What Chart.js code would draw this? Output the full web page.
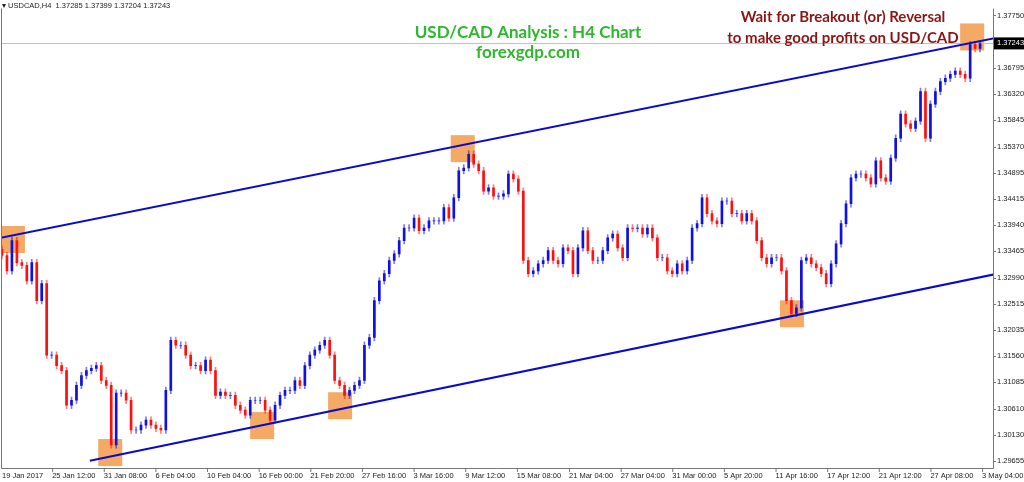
<!DOCTYPE html>
<html>
<head>
<meta charset="utf-8">
<script src="https://cdn.jsdelivr.net/npm/chart.js@4.4.0/dist/chart.umd.min.js"></script>
<style>
  html, body { margin: 0; padding: 0; background: #fff; }
  #wrap { width: 1024px; height: 482px; position: relative; }
</style>
</head>
<body>
<div id="wrap"><canvas id="myChart"></canvas></div>
<script>
// closes of the H4 candles (left to right)
const closes = [
  1.3339, 1.3311, 1.3366, 1.3326, 1.3321, 1.3293, 1.3326, 1.3257, 1.3288,
  1.3158, 1.3158, 1.3139, 1.3130, 1.3067, 1.3076, 1.3103, 1.3121, 1.3130, 1.3134, 1.3139,
  1.3112, 1.3103, 1.2995, 1.3089, 1.3089, 1.3076, 1.3022, 1.3022, 1.3031, 1.3040,
  1.3031, 1.3025, 1.3022, 1.3094, 1.3185, 1.3176, 1.3176, 1.3158, 1.3139, 1.3139,
  1.3130, 1.3149, 1.3130, 1.3085, 1.3091, 1.3085, 1.3085, 1.3067, 1.3058, 1.3049,
  1.3076, 1.3076, 1.3076, 1.3058, 1.3040, 1.3067, 1.3085, 1.3094, 1.3094, 1.3112,
  1.3103, 1.3139, 1.3158, 1.3167, 1.3176, 1.3185, 1.3158, 1.3112, 1.3103, 1.3085,
  1.3094, 1.3103, 1.3112, 1.3176, 1.3190, 1.3257, 1.3293, 1.3306, 1.3330, 1.3342,
  1.3366, 1.3389, 1.3389, 1.3407, 1.3384, 1.3389, 1.3402, 1.3402, 1.3402, 1.3426,
  1.3407, 1.3444, 1.3493, 1.3498, 1.3523, 1.3505, 1.3493, 1.3456, 1.3462, 1.3447,
  1.3447, 1.3451, 1.3487, 1.3478, 1.3456, 1.3330, 1.3306,
  1.3311, 1.3324, 1.3330, 1.3348, 1.3330, 1.3324, 1.3353, 1.3348, 1.3306, 1.3353,
  1.3384, 1.3348, 1.3330, 1.3330, 1.3348, 1.3371, 1.3378, 1.3353, 1.3335, 1.3389,
  1.3388, 1.3389, 1.3378, 1.3389, 1.3371, 1.3335, 1.3335, 1.3311, 1.3306, 1.3324,
  1.3311, 1.3330, 1.3389, 1.3397, 1.3444, 1.3415, 1.3402, 1.3397, 1.3438, 1.3438,
  1.3415, 1.3415, 1.3402, 1.3415, 1.3402, 1.3366, 1.3335, 1.3324, 1.3335, 1.3335,
  1.3311, 1.3257, 1.3234, 1.3244, 1.3330, 1.3335, 1.3324, 1.3317, 1.3306, 1.3288,
  1.3324, 1.3360, 1.3397, 1.3433, 1.3480, 1.3487, 1.3487, 1.3480, 1.3469, 1.3511,
  1.3480, 1.3474, 1.3516, 1.3552, 1.3596, 1.3578, 1.3570, 1.3583, 1.3637, 1.3552,
  1.3614, 1.3637, 1.3655, 1.3661, 1.3668, 1.3674, 1.3668, 1.3661, 1.3722, 1.3715,
  1.3724
]
const firstOpen = 1.3350

const yTicks = [1.37750, 1.36795, 1.36320, 1.35845, 1.35370, 1.34895, 1.34415, 1.33940,
  1.33465, 1.32990, 1.32515, 1.32035, 1.31560, 1.31085, 1.30610, 1.30130, 1.29655]

const dateLabels = ['19 Jan 2017', '25 Jan 12:00', '31 Jan 08:00', '6 Feb 04:00', '10 Feb 04:00',
  '16 Feb 00:00', '21 Feb 20:00', '27 Feb 16:00', '3 Mar 16:00', '9 Mar 12:00', '15 Mar 08:00',
  '21 Mar 04:00', '27 Mar 04:00', '31 Mar 00:00', '5 Apr 20:00', '11 Apr 16:00', '17 Apr 12:00',
  '21 Apr 12:00', '27 Apr 08:00', '3 May 04:00']
const dateIdx = [-0.2, 10.1, 20.5, 30.9, 41.3, 51.7, 62.1, 72.5, 82.9, 93.3, 103.7, 114.2,
  124.6, 135.0, 145.4, 155.8, 166.2, 176.6, 187.0, 197.4]

// channel lines [candle index, price]
const upperLine = [[-0.4, 1.3371], [201.6, 1.3737]]
const lowerLine = [[17.7, 1.2966], [201.6, 1.3308]]
// highlighted touches [candle index, price]
const touches = [[2.2, 1.3369], [21.8, 1.2982], [52.4, 1.3031], [68.1, 1.3067],
  [92.8, 1.3534], [159.1, 1.3234], [195.4, 1.3737]]
const lastPrice = 1.37243

const wickPad = 0.0006
const opens = closes.map((c, i) => i === 0 ? firstOpen : closes[i - 1])
const bodies = closes.map((c, i) => ({ x: i, y: [opens[i], c] }))
const wicks = closes.map((c, i) => ({ x: i, y: [Math.min(opens[i], c) - wickPad, Math.max(opens[i], c) + wickPad] }))
const candleColor = closes.map((c, i) => c >= opens[i] ? '#1010e0' : '#ff1010')
const wickColor = closes.map((c, i) => c >= opens[i] ? 'rgba(16,16,224,0.55)' : 'rgba(255,16,16,0.55)')

const small = '7.5px "Liberation Sans"'

const overlay = {
  id: 'overlay',
  beforeDatasetsDraw(chart) {
    const { ctx, scales: { x, y }, chartArea } = chart
    ctx.save()
    ctx.fillStyle = 'rgba(240,140,50,0.75)'
    touches.forEach(([i, p]) => {
      ctx.fillRect(x.getPixelForValue(i) - 12, y.getPixelForValue(p) - 13, 24, 27)
    })
    // last price line
    ctx.strokeStyle = '#c0c0c0'
    ctx.lineWidth = 1
    const ly = Math.round(y.getPixelForValue(lastPrice)) + 0.5
    ctx.beginPath(); ctx.moveTo(chartArea.left, ly); ctx.lineTo(chartArea.right, ly); ctx.stroke()
    ctx.restore()
  },
  afterDraw(chart) {
    const { ctx, scales: { x, y }, chartArea } = chart
    ctx.save()
    // frame
    ctx.strokeStyle = '#777'
    ctx.lineWidth = 1
    ctx.beginPath()
    ctx.moveTo(chartArea.left + 0.5, chartArea.top)
    ctx.lineTo(chartArea.left + 0.5, chartArea.bottom + 0.5)
    ctx.lineTo(chartArea.right + 0.5, chartArea.bottom + 0.5)
    ctx.lineTo(chartArea.right + 0.5, chartArea.top)
    ctx.stroke()
    // y tick marks
    yTicks.forEach(v => {
      const py = Math.round(y.getPixelForValue(v)) + 0.5
      ctx.beginPath(); ctx.moveTo(chartArea.right, py); ctx.lineTo(chartArea.right + 3, py); ctx.stroke()
    })
    // x labels
    ctx.font = small
    ctx.fillStyle = '#222'
    ctx.textBaseline = 'top'
    dateLabels.forEach((t, k) => {
      const px = x.getPixelForValue(dateIdx[k])
      if (k > 0) {
        ctx.beginPath(); ctx.moveTo(px + 0.5, chartArea.bottom); ctx.lineTo(px + 0.5, chartArea.bottom + 4); ctx.stroke()
      }
      ctx.fillText(t, Math.max(px, 2), chartArea.bottom + 4)
    })
    // last price tag
    const ly = y.getPixelForValue(lastPrice)
    ctx.fillStyle = '#000'
    ctx.fillRect(chartArea.right + 1, ly - 6, 1024 - chartArea.right, 12)
    ctx.fillStyle = '#fff'
    ctx.textBaseline = 'middle'
    ctx.fillText(lastPrice.toFixed(5), chartArea.right + 4, ly)
    // header
    ctx.fillStyle = '#222'
    ctx.fillText('\u25BE USDCAD,H4  1.37285 1.37399 1.37204 1.37243', 2, 6)
    // titles
    ctx.textAlign = 'center'
    ctx.font = 'bold 17px Lato'
    ctx.fillStyle = '#2eb82e'
    ctx.fillText('USD/CAD Analysis : H4 Chart', 528, 33)
    ctx.fillText('forexgdp.com', 528, 53)
    ctx.fillStyle = '#8b1414'
    ctx.font = 'bold 15px Lato'
    ctx.fillText('Wait for Breakout (or) Reversal', 843, 17)
    ctx.fillText('to make good profits on USD/CAD', 843, 38)
    ctx.restore()
  }
}

new Chart(document.getElementById('myChart'), {
  type: 'bar',
  data: {
    datasets: [
      { data: wicks, backgroundColor: wickColor, barThickness: 1, order: 2 },
      { data: bodies, backgroundColor: candleColor, barThickness: 2, order: 1 },
      { type: 'line', data: upperLine.map(([i, p]) => ({ x: i, y: p })), borderColor: '#0a0acc', borderWidth: 2, pointRadius: 0, order: 0 },
      { type: 'line', data: lowerLine.map(([i, p]) => ({ x: i, y: p })), borderColor: '#0a0acc', borderWidth: 2, pointRadius: 0, order: 0 }
    ]
  },
  plugins: [overlay],
  options: {
    responsive: true,
    maintainAspectRatio: false,
    animation: false,
    grouped: false,
    layout: { padding: { top: 7, bottom: 14, left: 1, right: 0 } },
    plugins: { legend: { display: false }, tooltip: { enabled: false } },
    scales: {
      x: { type: 'linear', min: -0.2, max: 199.6, offset: false, bounds: 'ticks', display: false },
      y: {
        position: 'right',
        min: 1.2953, max: 1.37877,
        grid: { display: false, drawTicks: false },
        border: { display: false },
        afterBuildTicks: (axis) => { axis.ticks = yTicks.map(v => ({ value: v })) },
        afterFit: (axis) => { axis.width = 31 },
        ticks: { font: { size: 7.5, family: 'Liberation Sans' }, color: '#222', padding: 4,
          callback: (v) => v.toFixed(5) }
      }
    }
  }
})
</script>
</body>
</html>
